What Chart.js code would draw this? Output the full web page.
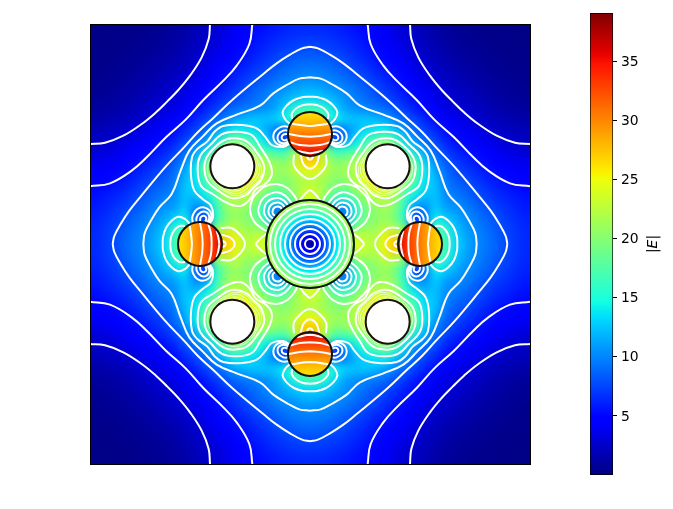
<!DOCTYPE html>
<html>
<head>
<meta charset="utf-8">
<style>
  html, body { margin: 0; background: #fff; }
  #page { position: relative; width: 673px; height: 509px; overflow: hidden; }
  #mapBox { position: absolute; left: 90px; top: 24px; width: 440px; height: 440px; }
  #mapBox::after { content: ''; position: absolute; inset: 0 -1px -1px 0; border: 1px solid #000; pointer-events: none; }
  #barCanvas { position: absolute; left: 573px; top: 0; }
</style>
<script src="https://cdn.jsdelivr.net/npm/chart.js@4"></script>
</head>
<body>
<div id="page">
  <div id="mapBox"><canvas id="mapCanvas" width="440" height="440"></canvas></div>
  <canvas id="barCanvas" width="100" height="509"></canvas>
</div>
<script>
// field, upper triangle of the top-left quadrant (30 unit cells)
const cellCentres = [15, 45, 75, 105, 135, 165, 195, 225, 255, 285, 315, 345, 375, 405, 435, 465, 495, 525, 555, 585, 615, 645];
const fieldUpper = [
  [.3, .3, .3, .35, .4, .5, .6, .75, .95, 1.3, 1.8, 2.2, 2.7, 3.3, 4, 4.5, 5.1, 5.5, 5.8, 6.1, 6.3, 6.4],
  [.3, .35, .4, .45, .55, .7, .9, 1.15, 1.5, 2, 2.4, 3, 3.6, 4.2, 4.8, 5.4, 5.9, 6.3, 6.6, 6.9, 7],
  [.4, .45, .55, .7, .85, 1.05, 1.35, 1.75, 2.2, 2.7, 3.3, 4, 4.6, 5.2, 5.8, 6.3, 6.8, 7.2, 7.5, 7.7],
  [.55, .7, .85, 1.05, 1.3, 1.6, 2, 2.5, 3.1, 3.8, 4.4, 5, 5.6, 6.2, 6.8, 7.4, 8, 8.4, 8.7],
  [.85, 1.05, 1.3, 1.6, 1.95, 2.35, 2.9, 3.6, 4.3, 5, 5.6, 6.2, 6.9, 7.5, 8.2, 8.8, 9.2, 9.5],
  [1.3, 1.6, 1.95, 2.35, 2.8, 3.4, 4.1, 4.8, 5.5, 6.2, 7, 7.7, 8.3, 9, 9.6, 10, 10.3],
  [1.95, 2.35, 2.7, 3.3, 3.9, 4.6, 5.3, 6.1, 6.9, 7.7, 8.5, 9.2, 10, 10.5, 11, 11.5],
  [2.6, 3.1, 3.7, 4.4, 5.1, 6, 6.9, 7.6, 8.3, 9.1, 9.9, 10.6, 11.5, 12.5, 13.2],
  [3.4, 4.3, 5, 5.9, 6.9, 8, 9, 9.5, 10, 10.3, 11, 13, 16, 17],
  [5, 6.2, 7.2, 8.5, 9.6, 11, 12, 12.5, 12.5, 13, 14.5, 17, 18],
  [7, 8.5, 10.3, 12, 14, 13.5, 13, 11.5, 10, 9, 12, 18],
  [10, 12.5, 16, 19, 17, 15.5, 13.5, 9.5, 5, 8, 18],
  [16, 21, 23, 22, 18, 16, 15, 15, 20, 25],
  [22, 23, 24, 23, 21, 20, 19, 22, 28],
  [24, 25.5, 24.5, 22, 21.5, 21, 23, 25.5],
  [27, 25, 22, 20.5, 20, 21, 22],
  [22.5, 21, 19, 19.5, 21, 23],
  [18, 15, 16, 20, 24],
  [9, 9, 16, 22],
  [12, 18, 21],
  [20, 21],
  [21]
];

// central disc, radius in map units against value
const coreRadii = [132, 124, 116, 108, 100, 92, 84, 76, 68, 60, 52, 44, 36, 28, 20, 12, 6];
const coreValues = [21.5, 20.2, 18.9, 17.6, 16.3, 15, 13.7, 12.4, 11, 9.8, 8.5, 7.2, 5.8, 4.5, 3.2, 1.9, 1];
const coreRings = [15, 30, 45, 60, 75, 90, 105, 120];

// hot discs: value from the outer rim to the rim facing the centre
const hotStops = [0, .25, .5, .75, 1];
const hotValues = [26, 28, 30.5, 33, 36];
const hotCentresX = [660, 330, 660, 990];
const hotCentresY = [330, 660, 990, 660];
const holeCentresX = [427, 893, 427, 893];
const holeCentresY = [427, 427, 893, 893];

// contour traces for one eighth of the map
const farTraces = [
  [[360, 0], [356, 45], [335, 100], [300, 155], [265, 198], [232, 232]],
  [[487, 0], [478, 60], [440, 125], [400, 170], [340, 228], [287, 287]],
  [[660, 68], [636, 73], [600, 92], [560, 118], [520, 150], [430, 225], [370, 282], [324, 324]],
  [[660, 160], [628, 164], [595, 180], [550, 208], [510, 245], [440, 272], [380, 298], [338, 338]],
  [[352, 352], [375, 322], [400, 306], [455, 303], [500, 313], [525, 338], [545, 363], [580, 369], [600, 358]],
  [[362, 362], [395, 331], [435, 323], [485, 333], [510, 368], [540, 418], [545, 453], [528, 478], [497, 497]],
  [[372, 372], [400, 350], [430, 343], [470, 352], [500, 385], [522, 425], [515, 465], [491, 491]],
  [[660, 218], [640, 219], [612, 228], [590, 245], [578, 265], [585, 285], [600, 300]],
  [[660, 241], [640, 243], [620, 252], [606, 268], [606, 285]],
  [[612, 392], [612, 425], [635, 453], [650, 463], [660, 465]],
  [[632, 394], [640, 420], [652, 432], [660, 434]],
  [[650, 396], [655, 405], [660, 408]],
  [[660, 497], [642, 513], [628, 532]],
  [[598, 308], [575, 308], [553, 325], [553, 350], [572, 364], [598, 358]],
  [[598, 320], [580, 320], [565, 332], [565, 350], [580, 358], [596, 352]],
  [[593, 330], [580, 332], [575, 342], [582, 349], [593, 346]],
  [[504, 504], [525, 487], [560, 480], [592, 492], [615, 518], [622, 533]],
  [[521, 521], [538, 510], [562, 505], [585, 515], [607, 539]],
  [[533, 533], [545, 525], [565, 522], [582, 530], [595, 545]],
  [[543, 543], [553, 537], [568, 536], [578, 542], [585, 551]],
  [[552, 552], [560, 548], [570, 549], [577, 557]],
  [[660, 306], [630, 303], [600, 298]],
  [[660, 338], [630, 336], [596, 330]],
  [[660, 365], [630, 363], [600, 355]],
  [[660, 388], [640, 385], [620, 380]]
];
const fineTraces = [
  [[385, 372], [430, 352], [475, 368], [505, 410], [515, 440], [505, 470], [487, 487]],
  [[450, 358], [480, 380], [505, 420], [507, 450], [482, 482]],
  [[470, 373], [495, 410], [500, 445], [478, 478]],
  [[480, 390], [495, 425], [490, 455], [474, 474]]
];

const barTickValues = [5, 10, 15, 20, 25, 30, 35];
const barLimits = [0, 39.1];
const barLabel = ['|', 'E', '|'];

const MID = 660;
const CORE_R = 132;
const DISC_R = 66;
const UNIT_PX = 440 / 1320;

// matplotlib jet, piecewise
const JET = {
  r: [[0, 0], [.35, 0], [.66, 1], [.89, 1], [1, .5]],
  g: [[0, 0], [.125, 0], [.375, 1], [.64, 1], [.91, 0], [1, 0]],
  b: [[0, .5], [.11, 1], [.34, 1], [.65, 0], [1, 0]],
};

function ramp(table, t) {
  for (let i = 1; i < table.length; i++) {
    if (t <= table[i][0]) {
      const [x0, y0] = table[i - 1];
      const [x1, y1] = table[i];
      return y0 + (y1 - y0) * (t - x0) / (x1 - x0);
    }
  }
  return table[table.length - 1][1];
}

function jetFrac(t) {
  const c = Math.max(0, Math.min(1, t));
  return `rgb(${Math.round(ramp(JET.r, c) * 255)},${Math.round(ramp(JET.g, c) * 255)},${Math.round(ramp(JET.b, c) * 255)})`;
}

function jet(v) {
  return jetFrac((v - barLimits[0]) / (barLimits[1] - barLimits[0]));
}

function fieldAt(i, j) {
  return i >= j ? fieldUpper[j][i - j] : fieldUpper[i][j - i];
}

function heatPoints() {
  const pts = [];
  const n = cellCentres.length;
  for (let j = 0; j < n; j++) {
    for (let i = 0; i < n; i++) {
      const v = fieldAt(i, j);
      const x = cellCentres[i];
      const y = cellCentres[j];
      pts.push({ x, y, v }, { x: 2 * MID - x, y, v }, { x, y: 2 * MID - y, v }, { x: 2 * MID - x, y: 2 * MID - y, v });
    }
  }
  return pts;
}

const onDiagonal = ([a, b]) => a === b;
const swapped = ([a, b]) => [b, a];

// a trace that ends on the diagonal is joined to its own reflection, so no kink there
function joinOnDiagonal(trace) {
  let path = trace;
  if (onDiagonal(path[path.length - 1])) {
    path = path.concat(path.slice(0, -1).reverse().map(swapped));
  }
  if (onDiagonal(path[0])) {
    path = path.slice(1).reverse().map(swapped).concat(path);
  }
  return path;
}

// all mirror images, split by gaps so that one dataset holds them
function mirrorTraces(traces) {
  const out = [];
  traces.forEach((trace) => {
    const path = joinOnDiagonal(trace);
    const flips = path.length === trace.length ? [false, true] : [false];
    flips.forEach((swap) => {
      [false, true].forEach((mx) => {
        [false, true].forEach((my) => {
          path.forEach(([a, b]) => {
            let x = swap ? b : a;
            let y = swap ? a : b;
            if (mx) x = 2 * MID - x;
            if (my) y = 2 * MID - y;
            out.push({ x, y });
          });
          out.push({ x: null, y: null });
        });
      });
    });
  });
  return out;
}

function hotFill(ctx) {
  const { x: xs, y: ys } = ctx.chart.scales;
  if (ctx.type !== 'data' || !ctx.chart.chartArea || !xs || !Number.isFinite(xs.getPixelForValue(MID))) return 'transparent';
  const cx = hotCentresX[ctx.dataIndex];
  const cy = hotCentresY[ctx.dataIndex];
  const dx = Math.sign(MID - cx) * DISC_R;
  const dy = Math.sign(MID - cy) * DISC_R;
  const g = ctx.chart.ctx.createLinearGradient(
    xs.getPixelForValue(cx - dx), ys.getPixelForValue(cy - dy),
    xs.getPixelForValue(cx + dx), ys.getPixelForValue(cy + dy)
  );
  hotStops.forEach((s, i) => g.addColorStop(s, jet(hotValues[i])));
  return g;
}

const blurCells = {
  id: 'blurCells',
  afterDatasetDraw(chart, args) {
    if (args.index !== 0) return;
    const ctx = chart.ctx;
    ctx.save();
    ctx.filter = 'blur(5px)';
    ctx.drawImage(chart.canvas, 0, 0);
    ctx.restore();
  },
};

const corePoints = coreRadii.map(() => ({ x: MID, y: MID }));
const ringPoints = coreRings.map(() => ({ x: MID, y: MID }));
const holePoints = holeCentresX.map((x, i) => ({ x, y: holeCentresY[i] }));
const hotPoints = hotCentresX.map((x, i) => ({ x, y: hotCentresY[i] }));

new Chart(document.getElementById('mapCanvas'), {
  type: 'scatter',
  plugins: [blurCells],
  data: {
    datasets: [
      {
        label: 'field',
        data: heatPoints(),
        order: 10,
        pointStyle: 'rect',
        pointRadius: 7.6,
        pointBorderWidth: 0,
        pointBackgroundColor: (c) => (c.raw ? jet(c.raw.v) : 'transparent'),
      },
      {
        label: 'core',
        data: corePoints,
        order: 9,
        pointRadius: (c) => coreRadii[c.dataIndex] * UNIT_PX,
        pointBorderWidth: 0,
        pointBackgroundColor: (c) => jet(coreValues[c.dataIndex]),
      },
      {
        label: 'hot discs',
        data: hotPoints,
        order: 8,
        pointRadius: DISC_R * UNIT_PX,
        pointBorderWidth: 0,
        pointBackgroundColor: hotFill,
      },
      {
        label: 'core contours',
        data: ringPoints,
        order: 6,
        pointRadius: (c) => coreRings[c.dataIndex] * UNIT_PX,
        pointBorderWidth: 2,
        pointBorderColor: '#fff',
        pointBackgroundColor: 'transparent',
      },
      {
        label: 'contours',
        data: mirrorTraces(farTraces),
        order: 5,
        showLine: true,
        spanGaps: false,
        tension: 0.4,
        borderColor: '#fff',
        borderWidth: 2,
        pointRadius: 0,
      },
      {
        label: 'fine contours',
        data: mirrorTraces(fineTraces),
        order: 4,
        showLine: true,
        spanGaps: false,
        tension: 0.4,
        borderColor: 'rgba(255,255,255,0.85)',
        borderWidth: 0.8,
        pointRadius: 0,
      },
      {
        label: 'holes',
        data: holePoints,
        order: 2,
        pointRadius: DISC_R * UNIT_PX,
        pointBorderWidth: 2,
        pointBorderColor: '#1a1010',
        pointBackgroundColor: '#fff',
      },
      {
        label: 'outlines',
        data: [...hotPoints, { x: MID, y: MID }],
        order: 1,
        pointRadius: (c) => (c.dataIndex === 4 ? CORE_R : DISC_R) * UNIT_PX,
        pointBorderWidth: 2,
        pointBorderColor: '#111',
        pointBackgroundColor: 'transparent',
      },
    ],
  },
  options: {
    responsive: false,
    animation: false,
    events: [],
    layout: { padding: 0, autoPadding: false },
    plugins: { legend: { display: false }, tooltip: { enabled: false } },
    scales: {
      x: { type: 'linear', display: false, min: 0, max: 2 * MID },
      y: { type: 'linear', display: false, min: 0, max: 2 * MID, reverse: true },
    },
  },
});

const barTitle = {
  id: 'barTitle',
  afterDraw(chart) {
    const ctx = chart.ctx;
    const a = chart.chartArea;
    ctx.save();
    ctx.translate(80, (a.top + a.bottom) / 2);
    ctx.rotate(-Math.PI / 2);
    ctx.fillStyle = '#000';
    ctx.textBaseline = 'middle';
    const normal = '13.9px "DejaVu Sans"';
    const slanted = 'italic 13.9px "DejaVu Sans"';
    const widths = barLabel.map((s, i) => {
      ctx.font = i === 1 ? slanted : normal;
      return ctx.measureText(s).width;
    });
    let at = -widths.reduce((s, w) => s + w, 0) / 2;
    barLabel.forEach((s, i) => {
      ctx.font = i === 1 ? slanted : normal;
      ctx.fillText(s, at, 0);
      at += widths[i];
    });
    ctx.restore();
  },
};

new Chart(document.getElementById('barCanvas'), {
  type: 'bar',
  plugins: [barTitle],
  data: {
    labels: ['|E|'],
    datasets: [{
      data: [barLimits],
      barPercentage: 1,
      categoryPercentage: 1,
      borderColor: '#000',
      borderWidth: 1,
      borderSkipped: false,
      backgroundColor: (c) => {
        const a = c.chart.chartArea;
        if (!a) return '#00f';
        const g = c.chart.ctx.createLinearGradient(0, a.bottom, 0, a.top);
        for (let i = 0; i <= 64; i++) g.addColorStop(i / 64, jetFrac(i / 64));
        return g;
      },
    }],
  },
  options: {
    responsive: false,
    animation: false,
    events: [],
    layout: { padding: { left: 17, top: 13, bottom: 34, right: 0 } },
    plugins: { legend: { display: false }, tooltip: { enabled: false } },
    scales: {
      x: { display: false },
      y: {
        position: 'right',
        min: barLimits[0],
        max: barLimits[1],
        afterBuildTicks: (s) => { s.ticks = barTickValues.map((value) => ({ value })); },
        afterFit: (s) => { s.width = 60; },
        border: { display: false },
        grid: { drawOnChartArea: false, tickLength: 4, tickColor: '#000' },
        ticks: {
          color: '#000',
          padding: 4,
          labelOffset: 1,
          autoSkip: false,
          font: { family: '"DejaVu Sans"', size: 13.9 },
        },
      },
    },
  },
});
</script>
</body>
</html>
